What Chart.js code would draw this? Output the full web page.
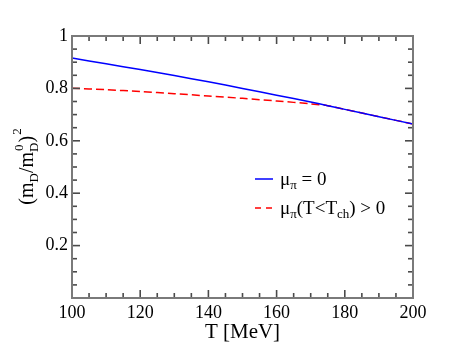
<!DOCTYPE html>
<html><head><meta charset="utf-8">
<script src="https://cdn.jsdelivr.net/npm/chart.js@4/dist/chart.umd.min.js"></script>
<style>html,body{margin:0;padding:0;background:#fff}#wrap{width:466px;height:360px}</style>
</head><body><div id="wrap"><canvas id="c" width="466" height="360"></canvas></div>
<script>
// Data
const T_blue = [100,110,120,130,140,150,160,170,175,180,190,200];
const mD_blue = [0.916,0.894,0.872,0.849,0.825,0.800,0.774,0.748,0.734,0.720,0.692,0.664];
const T_red = [100,110,120,130,140,150,160,170,175,180,190,200];
const mD_red = [0.801,0.795,0.788,0.780,0.771,0.762,0.752,0.741,0.734,0.720,0.692,0.664];
const xTicks = [100,120,140,160,180,200];
const yTicks = [0.2,0.4,0.6,0.8,1];

const FONT = 'Liberation Serif';
const L = 72, R = 413, TOP = 36, BOT = 298;

function pts(xs, ys){ return xs.map((x,i)=>({x:x,y:ys[i]})); }
function f(sz){ return sz + 'px "Liberation Serif", serif'; }

function drawTicks(chart){
  const ctx = chart.ctx, a = chart.chartArea, xs = chart.scales.x, ys = chart.scales.y;
  ctx.save();
  ctx.setLineDash([]);
  ctx.lineWidth = 1.6; ctx.strokeStyle = '#4a4a4a';
  for (let i=0; i<=20; i++){
    const p = xs.getPixelForValue(100 + i*5);
    const len = (i%4===0)?8:5;
    ctx.beginPath(); ctx.moveTo(p,a.bottom); ctx.lineTo(p,a.bottom-len); ctx.stroke();
    ctx.beginPath(); ctx.moveTo(p,a.top); ctx.lineTo(p,a.top+len); ctx.stroke();
  }
  for (let k=0; k<=20; k++){
    const p = ys.getPixelForValue(k*0.05);
    const len = (k%4===0)?8:5;
    ctx.beginPath(); ctx.moveTo(a.left,p); ctx.lineTo(a.left+len,p); ctx.stroke();
    ctx.beginPath(); ctx.moveTo(a.right,p); ctx.lineTo(a.right-len,p); ctx.stroke();
  }
  ctx.strokeStyle = '#7a7a7a'; ctx.lineWidth = 2;
  ctx.strokeRect(a.left, a.top, a.right-a.left, a.bottom-a.top);
  ctx.restore();
}

const framePlugin = {
  id:'frame',
  afterDraw(chart){
    drawTicks(chart);
    const ctx = chart.ctx, a = chart.chartArea;
    ctx.save();
    ctx.fillStyle = '#000';
    // x title
    ctx.font = f(21); ctx.textAlign='center'; ctx.textBaseline='alphabetic';
    ctx.fillText('T [MeV]', (a.left+a.right)/2, 338);
    // y title with sub/superscripts
    ctx.translate(33, 167); ctx.rotate(-Math.PI/2);
    const parts = [
      ['(m',20,0],['D',13,5],['/m',20,0],['D',13,5],['0',13,-10],[')',20,0],['2',13,-12]
    ];
    ctx.textAlign='left';
    const widths = parts.map(p=>{ctx.font=f(p[1]); return ctx.measureText(p[0]).width;});
    const total = widths[0]+widths[1]+widths[2]+widths[3]+widths[5]+widths[6];
    let x = -total/2;
    const draw=(i,xx)=>{ctx.font=f(parts[i][1]); ctx.fillText(parts[i][0], xx, parts[i][2]);};
    draw(0,x); x+=widths[0];
    draw(1,x); x+=widths[1];
    draw(2,x); x+=widths[2];
    draw(3,x); draw(4,x+1); x+=widths[3];
    draw(5,x); x+=widths[5];
    draw(6,x+1);
    ctx.restore();

    // legend
    ctx.save();
    ctx.lineWidth = 1.5;
    ctx.strokeStyle = '#0000ff';
    ctx.beginPath(); ctx.moveTo(255,179); ctx.lineTo(273,179); ctx.stroke();
    ctx.strokeStyle = '#ff0000'; ctx.setLineDash([6,5]);
    ctx.beginPath(); ctx.moveTo(255,208); ctx.lineTo(273,208); ctx.stroke();
    ctx.setLineDash([]);
    ctx.fillStyle='#000'; ctx.textAlign='left'; ctx.textBaseline='alphabetic';
    function seq(items, x0, y0){
      let xx=x0;
      for (const it of items){ ctx.font = f(it[1]); ctx.fillText(it[0], xx, y0+it[2]); xx += ctx.measureText(it[0]).width; }
    }
    seq([['\u03bc',19,0],['\u03c0',13,4],[' = 0',19,0]], 280, 185);
    seq([['\u03bc',19,0],['\u03c0',13,4],['(T<T',19,0],['ch',13,4],[') > 0',19,0]], 280, 214);
    ctx.restore();
  }
};

new Chart(document.getElementById('c'), {
  type:'line',
  data:{ datasets:[
    { data: pts(T_blue, mD_blue), borderColor:'#0000ff', borderWidth:1.5, pointRadius:0, fill:false, tension:0.3 },
    { data: pts(T_red, mD_red), borderColor:'#ff0000', borderWidth:1.5, borderDash:[8,4], pointRadius:0, fill:false, tension:0.3 }
  ]},
  options:{
    responsive:false, animation:false, devicePixelRatio:1,
    layout:{ padding:{ left:0, right:466-R, top:TOP, bottom:0 } },
    plugins:{ legend:{display:false}, tooltip:{enabled:false} },
    scales:{
      x:{ type:'linear', min:100, max:200,
        afterBuildTicks(s){ s.ticks = xTicks.map(v=>({value:v})); },
        afterFit(s){ s.height = 360-BOT; },
        grid:{ display:false, drawTicks:false }, border:{display:false},
        ticks:{ color:'#000', font:{family:FONT,size:18}, padding:4, maxRotation:0, autoSkip:false } },
      y:{ type:'linear', min:0, max:1,
        afterBuildTicks(s){ s.ticks = yTicks.map(v=>({value:v})); },
        afterFit(s){ s.width = L; },
        grid:{ display:false, drawTicks:false }, border:{display:false},
        ticks:{ color:'#000', font:{family:FONT,size:18}, padding:4, autoSkip:false,
          callback:(v)=>String(+Number(v).toFixed(1)) } }
    }
  },
  plugins:[framePlugin]
});
</script></body></html>
